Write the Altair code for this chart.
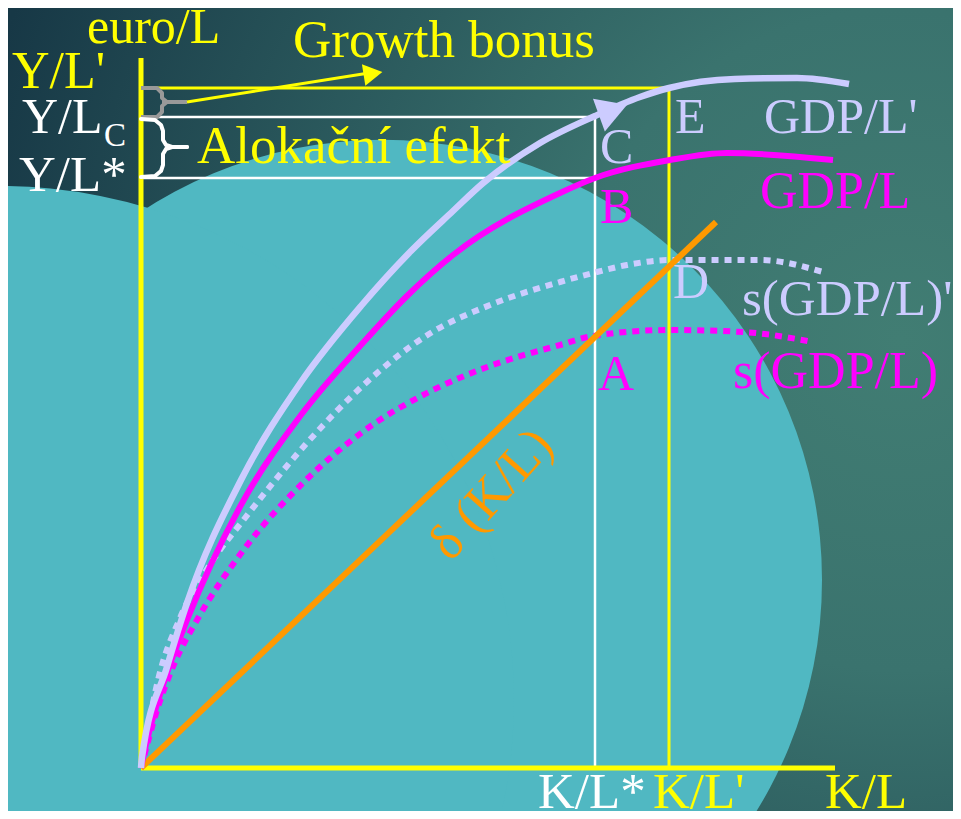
import altair as alt
import pandas as pd

# ---- key levels (K/L on x, euro/L on y; arbitrary units, origin at the axes corner)
KL_star = 4.54
KL_prime = 5.28
KL_axis_end = 6.94
YL_axis_end = 7.10
YL_prime = 6.80
YL_C = 6.51
YL_star = 5.90

# ---- curves
gdp_lp_x = [0.00, 0.01, 0.26, 0.46, 1.00, 1.60, 2.20, 2.70, 3.12, 3.41, 3.99, 4.54, 4.99, 5.28, 5.94, 6.56, 7.08]
gdp_lp_y = [0.00, 0.11, 1.01, 1.65, 2.88, 3.86, 4.62, 5.17, 5.57, 5.84, 6.25, 6.52, 6.71, 6.80, 6.89, 6.90, 6.84]

gdp_l_x = [0.00, 0.02, 0.26, 0.46, 1.00, 1.60, 2.20, 2.66, 3.12, 4.19, 4.54, 5.29, 5.86, 6.92]
gdp_l_y = [0.00, 0.10, 0.95, 1.48, 2.63, 3.53, 4.23, 4.72, 5.13, 5.75, 5.90, 6.08, 6.15, 6.08]

s_gdp_lp_x = [0.00, 0.17, 0.39, 0.70, 1.04, 1.65, 2.27, 2.88, 3.49, 4.19, 4.52, 4.86, 5.29, 6.19, 6.82]
s_gdp_lp_y = [0.00, 0.88, 1.50, 2.05, 2.50, 3.24, 3.87, 4.34, 4.63, 4.86, 4.95, 5.03, 5.08, 5.08, 4.96]

s_gdp_l_x = [0.00, 0.17, 0.34, 0.56, 1.04, 1.65, 2.27, 2.88, 3.49, 4.19, 4.52, 5.29, 6.02, 6.72]
s_gdp_l_y = [0.00, 0.61, 1.06, 1.48, 2.20, 2.88, 3.40, 3.76, 4.02, 4.23, 4.32, 4.38, 4.36, 4.26]

delta_x = [0.00, 5.75]
delta_y = [0.00, 5.46]

# ---- brackets and arrows
gray_top_x = [0.00, 0.16, 0.21, 0.21, 0.26]
gray_top_y = [6.80, 6.80, 6.75, 6.70, 6.66]
gray_bot_x = [0.00, 0.16, 0.21, 0.21, 0.26]
gray_bot_y = [6.51, 6.51, 6.56, 6.62, 6.66]
gray_tail_x = [0.21, 0.46]
gray_tail_y = [6.66, 6.66]
bonus_arrow_x = [0.46, 2.28]
bonus_arrow_y = [6.66, 6.95]
bonus_head = (2.32, 6.945, 81)

brace_top_x = [0.00, 0.14, 0.20, 0.22, 0.22, 0.25, 0.31, 0.46]
brace_top_y = [6.49, 6.48, 6.43, 6.37, 6.28, 6.23, 6.21, 6.21]
brace_bot_x = [0.00, 0.14, 0.20, 0.22, 0.22, 0.25, 0.31, 0.46]
brace_bot_y = [5.91, 5.92, 5.97, 6.03, 6.14, 6.19, 6.21, 6.21]

curve_head = (4.72, 6.58, 70)

# ---- labels
label_text = ["euro/L", "Growth bonus", "Y/L'", "Y/L", "C", "Y/L*", "Alokační efekt",
              "C", "E", "GDP/L'", "B", "GDP/L", "D", "s(GDP/L)'", "A", "s(GDP/L)",
              "K/L*", "K/L'", "K/L"]
label_x = [-0.54, 1.52, -1.29, -1.19, -0.37, -1.22, 0.56,
           4.59, 5.34, 6.23, 4.59, 6.19, 5.32, 6.01, 4.57, 5.92,
           3.97, 5.12, 6.84]
label_y = [7.25, 7.11, 6.80, 6.35, 6.22, 5.77, 6.05,
           6.05, 6.35, 6.35, 5.45, 5.60, 4.70, 4.53, 3.78, 3.80,
           -0.40, -0.40, -0.40]
label_color = ["#ffff00", "#ffff00", "#ffff00", "#ffffff", "#ffffff", "#ffffff", "#ffff00",
               "#ccccff", "#ccccff", "#ccccff", "#ff00ff", "#ff00ff", "#ccccff", "#ccccff", "#ff00ff", "#ff00ff",
               "#ffffff", "#ffff00", "#ffff00"]
label_size = [50, 53, 52, 50, 33, 51, 53,
              50, 50, 50, 50, 52, 50, 51, 50, 52,
              51, 51, 51]

delta_label = ("δ (K/L)", 3.50, 2.74, 312)

# ---- background blobs (centre x, centre y, radius in px)
blob_x = [2.41, -1.41]
blob_y = [1.88, 0.68]
blob_r = [440, 514]

W, H = 945, 803
xs = alt.Scale(domain=[-1.33, 8.12], nice=False, zero=False)
ys = alt.Scale(domain=[-0.43, 7.60], nice=False, zero=False)


def X(f="x"):
    return alt.X(f"{f}:Q", scale=xs, axis=None)


def Y(f="y"):
    return alt.Y(f"{f}:Q", scale=ys, axis=None)


def seg_df(segments):
    rows = []
    for k, (xx, yy) in enumerate(segments):
        for i, (a, b) in enumerate(zip(xx, yy)):
            rows.append({"x": a, "y": b, "seg": k, "o": i})
    return pd.DataFrame(rows)


def rules(rows, color, width, cap="butt"):
    df = pd.DataFrame(rows, columns=["x", "y", "x2", "y2"])
    return alt.Chart(df).mark_rule(color=color, strokeWidth=width, strokeCap=cap).encode(
        x=X(), y=Y(), x2="x2:Q", y2="y2:Q")


def curve(xx, yy, color, width, dash=None, interp="monotone"):
    kw = dict(color=color, strokeWidth=width, interpolate=interp, strokeCap="butt")
    if dash:
        kw["strokeDash"] = dash
    return alt.Chart(seg_df([(xx, yy)])).mark_line(**kw).encode(
        x=X(), y=Y(), order="o:Q")


bg = alt.Chart(pd.DataFrame({"a": [0]})).mark_rect(
    fill={"gradient": "radial", "x1": 0.944, "y1": 0.426, "r1": 0,
          "x2": 0.944, "y2": 0.426, "r2": 1.0,
          "stops": [{"offset": 0, "color": "#417d73"},
                    {"offset": 0.35, "color": "#3a736e"},
                    {"offset": 1, "color": "#173846"}]}
).encode(x=alt.value(0), x2=alt.value(W), y=alt.value(0), y2=alt.value(H))

# Vega's circle symbol has diameter sqrt(size)
blobs = alt.Chart(pd.DataFrame({"x": blob_x, "y": blob_y,
                                "s": [4 * r * r for r in blob_r]})).mark_circle(
    color="#50b8c2", opacity=1).encode(x=X(), y=Y(), size=alt.Size("s:Q", scale=None))

white_lines = rules([
    [0, YL_C, KL_star, YL_C],
    [0, YL_star, KL_star, YL_star],
    [KL_star, 0, KL_star, YL_C],
], "#ffffff", 2.5)

yellow_lines = rules([
    [0, YL_prime, KL_prime, YL_prime],
    [KL_prime, 0, KL_prime, YL_prime],
], "#ffff00", 3)

axes = rules([
    [0, 0, 0, YL_axis_end],
    [0, 0, KL_axis_end, 0],
], "#ffff00", 5)

gray_bracket = alt.Chart(seg_df([(gray_top_x, gray_top_y), (gray_bot_x, gray_bot_y),
                                 (gray_tail_x, gray_tail_y)])).mark_line(
    color="#999999", strokeWidth=4, strokeJoin="round").encode(
    x=X(), y=Y(), detail="seg:N", order="o:Q")

brace = alt.Chart(seg_df([(brace_top_x, brace_top_y), (brace_bot_x, brace_bot_y)])).mark_line(
    color="#ffffff", strokeWidth=4, strokeJoin="round", strokeCap="round").encode(
    x=X(), y=Y(), detail="seg:N", order="o:Q")

bonus_line = rules([[bonus_arrow_x[0], bonus_arrow_y[0], bonus_arrow_x[1], bonus_arrow_y[1]]],
                   "#ffff00", 3)
bonus_tip = alt.Chart(pd.DataFrame({"x": [bonus_head[0]], "y": [bonus_head[1]]})).mark_point(
    shape="triangle-up", filled=True, opacity=1, color="#ffff00", size=480,
    angle=bonus_head[2]).encode(x=X(), y=Y())

s_lp = curve(s_gdp_lp_x, s_gdp_lp_y, "#ccccff", 6, dash=[7, 6])
s_l = curve(s_gdp_l_x, s_gdp_l_y, "#ff00ff", 6, dash=[7, 6])
delta = rules([[delta_x[0], delta_y[0], delta_x[1], delta_y[1]]], "#ff9900", 6)
g_l = curve(gdp_l_x, gdp_l_y, "#ff00ff", 6)
g_lp = curve(gdp_lp_x, gdp_lp_y, "#ccccff", 6.5)

curve_tip = alt.Chart(pd.DataFrame({"x": [curve_head[0]], "y": [curve_head[1]]})).mark_point(
    shape="triangle-up", filled=True, opacity=1, color="#ccccff", size=1200,
    angle=curve_head[2]).encode(x=X(), y=Y())

labels = alt.Chart(pd.DataFrame({"t": label_text, "x": label_x, "y": label_y,
                                 "c": label_color, "s": label_size})).mark_text(
    align="left", baseline="alphabetic", font="Liberation Serif").encode(
    x=X(), y=Y(), text="t:N", color=alt.Color("c:N", scale=None),
    size=alt.Size("s:Q", scale=None))

delta_text = alt.Chart(pd.DataFrame({"t": [delta_label[0]], "x": [delta_label[1]],
                                     "y": [delta_label[2]]})).mark_text(
    align="center", baseline="middle", font="Liberation Serif", fontSize=52,
    color="#ff9900", angle=delta_label[3]).encode(x=X(), y=Y(), text="t:N")

chart = alt.layer(
    bg, blobs, white_lines, yellow_lines, axes, gray_bracket, brace, bonus_line, bonus_tip,
    s_lp, s_l, delta, g_l, g_lp, curve_tip, labels, delta_text
).properties(
    width=W, height=H, padding=0,
    autosize=alt.AutoSizeParams(type="none"),
).configure_view(stroke=None).configure(background="#1d4450")

chart.save("out.html", embed_options={"renderer": "svg", "actions": False})
